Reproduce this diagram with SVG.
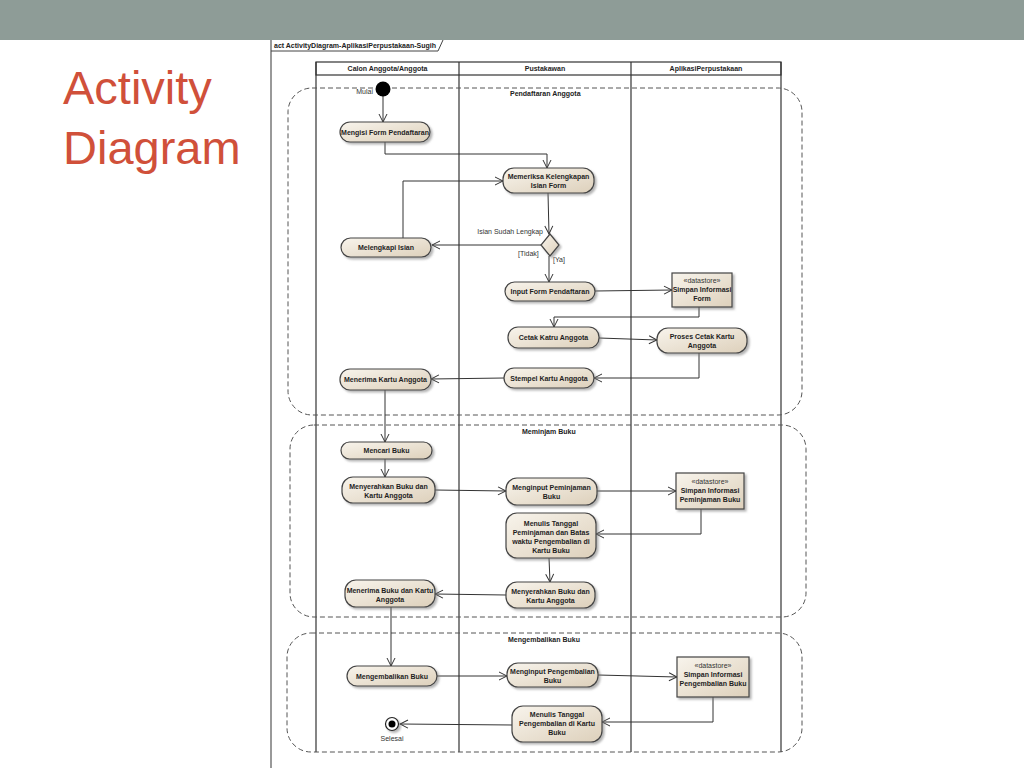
<svg xmlns="http://www.w3.org/2000/svg" width="1024" height="768" viewBox="0 0 1024 768">
<defs>
<linearGradient id="g" x1="0" y1="0" x2="1" y2="1">
<stop offset="0" stop-color="#f8f4ec"/>
<stop offset="1" stop-color="#ddd0bb"/>
</linearGradient>
<filter id="sh" x="-20%" y="-20%" width="140%" height="160%">
<feDropShadow dx="2" dy="2" stdDeviation="1" flood-color="#777" flood-opacity="0.55"/>
</filter>
<marker id="arr" markerWidth="10" markerHeight="10" refX="9" refY="5" orient="auto" markerUnits="userSpaceOnUse">
<path d="M1,1 L9,5 L1,9" fill="none" stroke="#333" stroke-width="1"/>
</marker>
</defs>
<style>
.n{fill:url(#g);stroke:#444;stroke-width:1.2;filter:url(#sh)}
.t{font-family:"Liberation Sans",Arial,sans-serif;font-size:7px;font-weight:bold;fill:#1e1e1e;text-anchor:middle}
.l{font-family:"Liberation Sans",Arial,sans-serif;font-size:7px;fill:#333}
.rl{font-family:"Liberation Sans",Arial,sans-serif;font-size:7px;font-weight:bold;fill:#222}
.c{fill:none;stroke:#333;stroke-width:1;marker-end:url(#arr)}
.reg{fill:none;stroke:#555;stroke-width:1;stroke-dasharray:5,3}
.lane{fill:none;stroke:#333;stroke-width:1.2}
</style>
<rect x="0" y="0" width="1024" height="768" fill="#fff"/>
<rect x="0" y="0" width="1024" height="40" fill="#8e9c97"/>
<g id="title" font-family="'Liberation Sans',Arial,sans-serif" font-size="47" fill="#d0503a">
<text x="63" y="104">Activity</text>
<text x="63" y="164">Diagram</text>
</g>
<g id="frame">
<line x1="271" y1="40" x2="271" y2="768" stroke="#999" stroke-width="2"/>
<path d="M271,51 L438,51 L443,40" fill="none" stroke="#444" stroke-width="1"/>
<text x="274" y="47.5" class="rl">act ActivityDiagram-AplikasiPerpustakaan-Sugih</text>
</g>
<g id="lanes">
<rect x="316" y="62" width="465" height="13" class="lane"/>
<line x1="316" y1="62" x2="316" y2="752" class="lane"/>
<line x1="459" y1="62" x2="459" y2="752" class="lane"/>
<line x1="631" y1="62" x2="631" y2="752" class="lane"/>
<line x1="781" y1="62" x2="781" y2="752" class="lane"/>
<text x="387.5" y="71" class="t">Calon Anggota/Anggota</text>
<text x="545" y="71" class="t">Pustakawan</text>
<text x="706" y="71" class="t">AplikasiPerpustakaan</text>
</g>
<g id="regions">
<rect x="288" y="88" width="514" height="327" rx="24" class="reg"/>
<text x="510" y="96" class="rl">Pendaftaran Anggota</text>
<rect x="290" y="425" width="516" height="192" rx="24" class="reg"/>
<text x="522" y="433.5" class="rl">Meminjam Buku</text>
<rect x="287" y="633" width="515" height="119" rx="24" class="reg"/>
<text x="508" y="642" class="rl">Mengembalikan Buku</text>
</g>
<g id="connectors">
<polyline points="383,96 383,122" class="c"/>
<polyline points="385,142 385,154 547,154 547,168" class="c"/>
<polyline points="403,238 403,181 503,181" class="c"/>
<polyline points="548,193 549,234" class="c"/>
<polyline points="541,245 432,245" class="c"/>
<polyline points="549,256 549,282" class="c"/>
<polyline points="595,291 672,290" class="c"/>
<polyline points="699,307 699,317 554,317 554,327" class="c"/>
<polyline points="599,338 657,340" class="c"/>
<polyline points="699,353 699,378 594,378" class="c"/>
<polyline points="504,378 431,379" class="c"/>
<polyline points="385,390 385,442" class="c"/>
<polyline points="385,459 385,477" class="c"/>
<polyline points="435,490 506,491" class="c"/>
<polyline points="597,491 676,491" class="c"/>
<polyline points="701,509 701,534 596,534" class="c"/>
<polyline points="549,558 550,582" class="c"/>
<polyline points="506,595 435,594" class="c"/>
<polyline points="391,607 391,666" class="c"/>
<polyline points="437,676 507,676" class="c"/>
<polyline points="598,675 677,677" class="c"/>
<polyline points="713,697 713,722 602,722" class="c"/>
<polyline points="512,725 400,724" class="c"/>
<text x="543" y="234" class="l" text-anchor="end">Isian Sudah Lengkap</text>
<text x="518" y="255.5" class="l">[Tidak]</text>
<text x="553" y="262" class="l">[Ya]</text>
</g>
<g id="start">
<circle cx="383" cy="89" r="7.5" fill="#000"/>
<text x="373" y="93.5" class="l" text-anchor="end">Mulai</text>
</g>
<g id="end">
<circle cx="392" cy="724" r="6.5" fill="#fff" stroke="#222" stroke-width="1.2" filter="url(#sh)"/>
<circle cx="392" cy="724" r="3.5" fill="#000"/>
<text x="392" y="741" class="l" text-anchor="middle">Selesai</text>
</g>
<g id="n1"><rect x="340" y="122" width="90" height="20" rx="10" class="n"/><text x="385" y="134.5" class="t">Mengisi Form Pendaftaran</text></g>
<g id="n2"><rect x="503" y="168" width="91" height="25" rx="11" class="n"/><text x="548.5" y="179" class="t">Memeriksa Kelengkapan</text><text x="548.5" y="188" class="t">Isian Form</text></g>
<g id="dec"><polygon points="550,234 559,245 550,256 541,245" class="n"/></g>
<g id="n3"><rect x="341" y="238" width="90" height="19" rx="9.5" class="n"/><text x="386" y="250" class="t">Melengkapi Isian</text></g>
<g id="n4"><rect x="505" y="282" width="90" height="19" rx="9.5" class="n"/><text x="550" y="294" class="t">Input Form Pendaftaran</text></g>
<g id="ds1"><rect x="672" y="273" width="60" height="34" class="n"/><text x="702" y="283" class="l" text-anchor="middle">«datastore»</text><text x="702" y="292" class="t">Simpan Informasi</text><text x="702" y="301" class="t">Form</text></g>
<g id="n5"><rect x="508" y="327" width="91" height="21" rx="10" class="n"/><text x="553.5" y="340" class="t">Cetak Katru Anggota</text></g>
<g id="n6"><rect x="657" y="328" width="90" height="25" rx="11" class="n"/><text x="702" y="339" class="t">Proses Cetak Kartu</text><text x="702" y="348" class="t">Anggota</text></g>
<g id="n7"><rect x="504" y="368" width="90" height="20" rx="10" class="n"/><text x="549" y="380.5" class="t">Stempel Kartu Anggota</text></g>
<g id="n8"><rect x="340" y="369" width="91" height="21" rx="10" class="n"/><text x="385.5" y="382" class="t">Menerima Kartu Anggota</text></g>
<g id="n9"><rect x="341" y="442" width="91" height="17" rx="8.5" class="n"/><text x="386.5" y="453" class="t">Mencari Buku</text></g>
<g id="n10"><rect x="342" y="477" width="93" height="26" rx="11" class="n"/><text x="388.5" y="489" class="t">Menyerahkan Buku dan</text><text x="388.5" y="498" class="t">Kartu Anggota</text></g>
<g id="n11"><rect x="506" y="478" width="91" height="27" rx="11" class="n"/><text x="551.5" y="490" class="t">Menginput Peminjaman</text><text x="551.5" y="499" class="t">Buku</text></g>
<g id="ds2"><rect x="676" y="473" width="68" height="36" class="n"/><text x="710" y="484" class="l" text-anchor="middle">«datastore»</text><text x="710" y="493" class="t">Simpan Informasi</text><text x="710" y="502" class="t">Peminjaman Buku</text></g>
<g id="n12"><rect x="506" y="513" width="90" height="45" rx="11" class="n"/><text x="551" y="526" class="t">Menulis Tanggal</text><text x="551" y="535" class="t">Peminjaman dan Batas</text><text x="551" y="544" class="t">waktu Pengembalian di</text><text x="551" y="553" class="t">Kartu Buku</text></g>
<g id="n13"><rect x="506" y="582" width="89" height="26" rx="11" class="n"/><text x="550.5" y="594" class="t">Menyerahkan Buku dan</text><text x="550.5" y="603" class="t">Kartu Anggota</text></g>
<g id="n14"><rect x="345" y="580" width="90" height="27" rx="11" class="n"/><text x="390" y="592.5" class="t">Menerima Buku dan Kartu</text><text x="390" y="601.5" class="t">Anggota</text></g>
<g id="n15"><rect x="347" y="666" width="90" height="20" rx="10" class="n"/><text x="392" y="678.5" class="t">Mengembalikan Buku</text></g>
<g id="n16"><rect x="507" y="663" width="91" height="24" rx="11" class="n"/><text x="552.5" y="674" class="t">Menginput Pengembalian</text><text x="552.5" y="683" class="t">Buku</text></g>
<g id="ds3"><rect x="677" y="657" width="72" height="40" class="n"/><text x="713" y="668" class="l" text-anchor="middle">«datastore»</text><text x="713" y="677" class="t">Simpan Informasi</text><text x="713" y="686" class="t">Pengembalian Buku</text></g>
<g id="n17"><rect x="512" y="706" width="90" height="36" rx="11" class="n"/><text x="557" y="717" class="t">Menulis Tanggal</text><text x="557" y="726" class="t">Pengembalian di Kartu</text><text x="557" y="735" class="t">Buku</text></g>
</svg>
